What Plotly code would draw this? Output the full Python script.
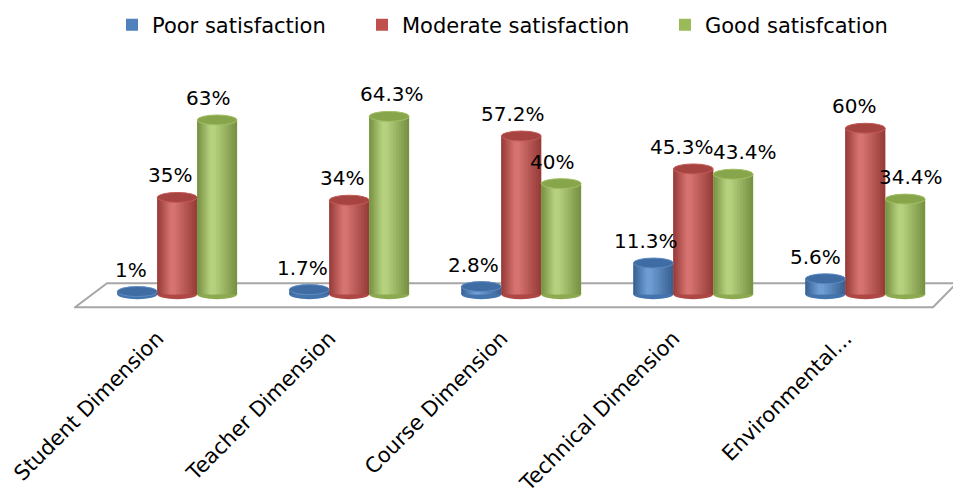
import plotly.graph_objects as go

# ---------------- data ----------------
categories = ["Student Dimension", "Teacher Dimension", "Course Dimension",
              "Technical Dimension", "Environmental..."]
series_names = ["Poor satisfaction", "Moderate satisfaction", "Good satisfcation"]
poor = [1, 1.7, 2.8, 11.3, 5.6]
moderate = [35, 34, 57.2, 45.3, 60]
good = [63, 64.3, 40, 43.4, 34.4]

# ---------------- style ----------------
FONT = "DejaVu Sans"
W = 0.232  # width of one cylinder in category units
N_BANDS = 9
edge_colors = [(0x3A, 0x62, 0x94), (0x98, 0x3D, 0x3A), (0x79, 0x93, 0x45)]
light_colors = [(0x6E, 0x9D, 0xD4), (0xD6, 0x73, 0x70), (0xB6, 0xD1, 0x7E)]
base_colors = ["#4F81BD", "#C0504D", "#9BBB59"]
bottom_colors = ["#4474AE", "#AF4845", "#8DAA50"]
top_colors = ["#3F6DA3", "#A64441", "#87A54B"]
top_lines = ["#5A8AC2", "#C45B58", "#A2C064"]
legend_ids = ["legend", "legend2", "legend3"]
legend_x_px = [112, 362, 665]
label_tick_shift = -0.115  # category labels sit a little left of the group centre
# horizontal nudges (px) of value labels, per series / category
label_nudge = [
    [-6, -7, -8, -7, -10],
    [-7, -7, -8, -11, -11],
    [-9, 3, -9, 12, 6],
]


def blend(c0, c1, t):
    r, g, b = (round(a + (bb - a) * t) for a, bb in zip(c0, c1))
    return f"rgb({r},{g},{b})"


values = [poor, moderate, good]
xs = list(range(len(categories)))

fig = go.Figure()
shapes = []
annotations = []

# floor (3D base plate), drawn below everything
shapes.append(dict(
    type="path", xref="x", yref="y", ysizemode="pixel", yanchor=0,
    path="M -0.594,-13 L -0.408,11 L 4.53,11 L 4.394,-13 Z",
    fillcolor="white", line=dict(color="#A6A6A6", width=2), layer="below"))

for k, (name, vals) in enumerate(zip(series_names, values)):
    center = (k - 1) * W
    # legend carrier / base body
    fig.add_trace(go.Bar(
        x=xs, y=vals, width=W, offset=center - W / 2,
        marker=dict(color=base_colors[k], line=dict(width=0)),
        name=name, legend=legend_ids[k], hoverinfo="skip"))
    for b in range(N_BANDS):
        t = b / (N_BANDS - 1)
        frac = 1.0 - 0.85 * t
        w = W * frac
        shift = -0.13 * W * (1 - frac)
        col = blend(edge_colors[k], light_colors[k], t)
        fig.add_trace(go.Bar(
            x=xs, y=vals, width=w, offset=center - w / 2 + shift,
            marker=dict(color=col, line=dict(width=0)),
            name=name, showlegend=False, hoverinfo="skip"))
    for i, v in zip(xs, vals):
        # bottom rounded edge
        shapes.append(dict(
            type="circle", xref="x", yref="y", ysizemode="pixel", yanchor=0,
            x0=i + center - W / 2, x1=i + center + W / 2, y0=-5, y1=5,
            fillcolor=bottom_colors[k], line=dict(width=0), layer="below"))
        # top ellipse
        shapes.append(dict(
            type="circle", xref="x", yref="y", ysizemode="pixel", yanchor=v,
            x0=i + center - W / 2, x1=i + center + W / 2, y0=-5, y1=5,
            fillcolor=top_colors[k], line=dict(color=top_lines[k], width=1),
            layer="above"))
        annotations.append(dict(
            x=i + center, y=v, xref="x", yref="y", text=f"{v:g}%",
            showarrow=False, yshift=22, xshift=label_nudge[k][i],
            font=dict(family=FONT, size=20, color="black")))

layout_legends = {}
for k, lid in enumerate(legend_ids):
    layout_legends[lid] = dict(
        xref="container", yref="container",
        x=legend_x_px[k] / 953, y=1 - 25 / 496, xanchor="left", yanchor="middle",
        orientation="h", bgcolor="rgba(0,0,0,0)",
        font=dict(family=FONT, size=21, color="black"))

fig.update_layout(
    width=953, height=496,
    margin=dict(l=74, r=0, t=101, b=181),
    paper_bgcolor="white", plot_bgcolor="white",
    barmode="overlay",
    shapes=shapes, annotations=annotations,
    font=dict(family=FONT, color="black"),
    **layout_legends,
)
fig.update_xaxes(
    range=[-0.6, 4.51], tickmode="array",
    tickvals=[i + label_tick_shift for i in xs], ticktext=categories,
    tickangle=-45, tickfont=dict(family=FONT, size=21, color="black"),
    showgrid=False, zeroline=False, showline=False, ticks="",
    ticklabelstandoff=10, fixedrange=True)
fig.update_yaxes(range=[-6.03, 69.86], visible=False, fixedrange=True)

fig.write_html("out.html")
